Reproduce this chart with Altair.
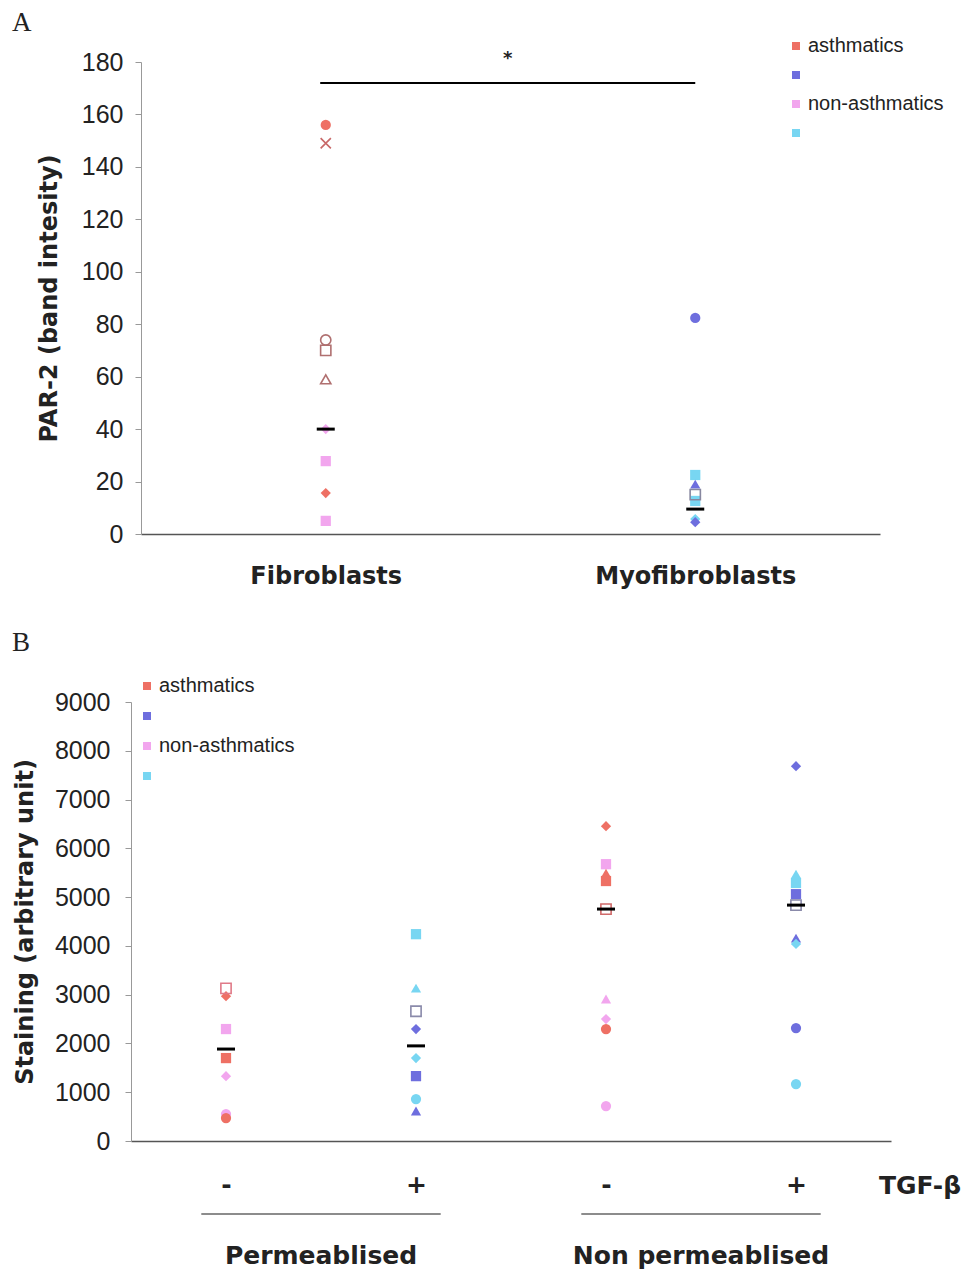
import altair as alt
import pandas as pd

# ---------------- shared series / colours ----------------
SERIES = ["asthmatics", "asthmatics_2", "non-asthmatics", "non-asthmatics_2"]
SERIES_COLORS = ["#EE7064", "#6E6EDE", "#F2A6EE", "#78D6F2"]
X_SHAPE = "M-1,-1L1,1M1,-1L-1,1"

# ---------------- panel A data ----------------
a_categories = ["Fibroblasts", "Myofibroblasts"]
# filled markers
a_f_cat = ["Fibroblasts"] * 5 + ["Myofibroblasts"] * 6
a_f_val = [156, 40, 27.8, 15.6, 5, 82.4, 22.5, 19, 12.6, 5.7, 4.5]
a_f_series = ["asthmatics", "non-asthmatics", "non-asthmatics", "asthmatics", "non-asthmatics",
              "asthmatics_2", "non-asthmatics_2", "asthmatics_2", "non-asthmatics_2",
              "non-asthmatics_2", "asthmatics_2"]
a_f_shape = ["circle", "diamond", "square", "diamond", "square",
             "circle", "square", "triangle-up", "square", "diamond", "diamond"]
# open markers
a_o_cat = ["Fibroblasts"] * 4 + ["Myofibroblasts"]
a_o_val = [149, 74, 70, 59, 15]
a_o_color = ["#C86868", "#B07070", "#B07070", "#B07070", "#8888A0"]
a_o_shape = [X_SHAPE, "circle", "square", "triangle-up", "square"]
# group means
a_m_cat = ["Fibroblasts", "Myofibroblasts"]
a_m_val = [40, 9.5]
# significance bar
a_sig_x = [0.97, 3.0]
a_sig_y = 172
a_sig_text = "*"

# ---------------- panel B data ----------------
b_tick_labels = ["-", "+", "-", "+"]
b_group_labels = ["Permeablised", "Non permeablised"]
b_f_grp = [0] * 6 + [1] * 7 + [2] * 8 + [3] * 8
b_f_val = [2970, 2295, 1700, 1330, 553, 470,
           4240, 3135, 2295, 1700, 1330, 860, 615,
           6455, 5675, 5490, 5330, 2910, 2500, 2295, 717,
           7684, 5470, 5290, 5060, 4160, 4040, 2315, 1168]
b_f_series = ["asthmatics", "non-asthmatics", "asthmatics", "non-asthmatics", "non-asthmatics", "asthmatics",
              "non-asthmatics_2", "non-asthmatics_2", "asthmatics_2", "non-asthmatics_2", "asthmatics_2",
              "non-asthmatics_2", "asthmatics_2",
              "asthmatics", "non-asthmatics", "asthmatics", "asthmatics", "non-asthmatics",
              "non-asthmatics", "asthmatics", "non-asthmatics",
              "asthmatics_2", "non-asthmatics_2", "non-asthmatics_2", "asthmatics_2", "asthmatics_2",
              "non-asthmatics_2", "asthmatics_2", "non-asthmatics_2"]
b_f_shape = ["diamond", "square", "square", "diamond", "circle", "circle",
             "square", "triangle-up", "diamond", "diamond", "square", "circle", "triangle-up",
             "diamond", "square", "triangle-up", "square", "triangle-up", "diamond", "circle", "circle",
             "diamond", "triangle-up", "square", "square", "triangle-up", "diamond", "circle", "circle"]
b_o_grp = [0, 1, 2, 3]
b_o_val = [3130, 2660, 4755, 4836]
b_o_color = ["#E07A88", "#8A8AAA", "#D06A6A", "#8A8AAA"]
b_m_grp = [0, 1, 2, 3]
b_m_val = [1885, 1950, 4755, 4836]

# ---------------- frames ----------------
def apos(c):
    return 2 * a_categories.index(c) + 1

def bpos(g):
    return 2 * g + 1

dfa_f = pd.DataFrame({"x": [apos(c) for c in a_f_cat], "v": a_f_val,
                      "series": a_f_series, "shape": a_f_shape})
dfa_o = pd.DataFrame({"x": [apos(c) for c in a_o_cat], "v": a_o_val,
                      "col": a_o_color, "shape": a_o_shape})
dfa_m = pd.DataFrame({"x": [apos(c) for c in a_m_cat], "v": a_m_val})
dfa_sig = pd.DataFrame({"x": [a_sig_x[0]], "x2": [a_sig_x[1]], "v": [a_sig_y],
                        "xm": [(a_sig_x[0] + a_sig_x[1]) / 2], "t": [a_sig_text]})

dfb_f = pd.DataFrame({"x": [bpos(g) for g in b_f_grp], "v": b_f_val,
                      "series": b_f_series, "shape": b_f_shape})
dfb_o = pd.DataFrame({"x": [bpos(g) for g in b_o_grp], "v": b_o_val, "col": b_o_color})
dfb_m = pd.DataFrame({"x": [bpos(g) for g in b_m_grp], "v": b_m_val})
b_centers = [4 * i + 2 for i in range(len(b_group_labels))]
dfb_g = pd.DataFrame({"x": b_centers, "x1": [c - 1.26 for c in b_centers],
                      "x2": [c + 1.26 for c in b_centers], "t": b_group_labels})

BOLD = "DejaVu Sans"
REG = "Liberation Sans"
MSIZE = 105

def legend(lx, ly, rowpad):
    return alt.Legend(orient="none", legendX=lx, legendY=ly, title=None,
                      labelExpr="indexof(datum.label, '_2') >= 0 ? ' ' : datum.label",
                      symbolType="square", symbolSize=64, symbolStrokeWidth=0,
                      labelFont=REG, labelFontSize=20, labelColor="#222",
                      rowPadding=rowpad, padding=0, labelOffset=2)

color_scale = alt.Scale(domain=SERIES, range=SERIES_COLORS)

# ---------------- panel A ----------------
WA, HA = 749, 472
xa = alt.X("x:Q", scale=alt.Scale(domain=[0, 4], range=[10, WA], nice=False),
           axis=alt.Axis(values=[1, 3], title=None, ticks=False, grid=False,
                         labelExpr="datum.value == 1 ? '%s' : '%s'" % tuple(a_categories),
                         labelFont=BOLD, labelFontWeight="bold", labelFontSize=24,
                         labelColor="#222", labelPadding=30, labelLimit=0, domainColor="#555",
                         domainWidth=1.5))
ya = alt.Y("v:Q", scale=alt.Scale(domain=[0, 180], nice=False),
           axis=alt.Axis(values=list(range(0, 181, 20)), title="PAR-2 (band intesity)",
                         titleFont=BOLD, titleFontSize=24, titleFontWeight="bold",
                         titleColor="#222", titlePadding=20, labelFont=REG, labelFontSize=25,
                         labelColor="#222", offset=-10, tickSize=6, labelPadding=12,
                         domainColor="#999", tickColor="#999", grid=False))

a_pts = alt.Chart(dfa_f).mark_point(filled=True, size=MSIZE, opacity=1).encode(
    x=xa, y=ya,
    color=alt.Color("series:N", scale=color_scale, legend=legend(655, -26, 9)),
    shape=alt.Shape("shape:N", scale=None))
a_open = alt.Chart(dfa_o).mark_point(filled=False, size=MSIZE, strokeWidth=1.6, opacity=1).encode(
    x="x:Q", y="v:Q", stroke=alt.Stroke("col:N", scale=None), shape=alt.Shape("shape:N", scale=None))
a_mean = alt.Chart(dfa_m).mark_tick(orient="horizontal", size=18, thickness=3, color="black",
                                    opacity=1).encode(x="x:Q", y="v:Q")
a_sig = alt.Chart(dfa_sig).mark_rule(color="black", strokeWidth=2).encode(x="x:Q", x2="x2", y="v:Q")
a_star = alt.Chart(dfa_sig).mark_text(font=BOLD, fontSize=18, fontWeight="bold", dy=-24,
                                      baseline="middle", color="#222").encode(
    x="xm:Q", y="v:Q", text="t:N")
a_letter = alt.Chart(pd.DataFrame({"t": ["A"]})).mark_text(
    font="Liberation Serif", fontSize=27, align="left", baseline="top", color="#222").encode(
    text="t:N", x=alt.value(-119), y=alt.value(-52))

chartA = alt.layer(a_pts, a_open, a_mean, a_sig, a_star, a_letter).properties(width=WA, height=HA)

# ---------------- panel B ----------------
WB, HB = 760, 439
xb = alt.X("x:Q", scale=alt.Scale(domain=[0, 8], nice=False),
           axis=alt.Axis(values=[bpos(i) for i in range(len(b_tick_labels))], title=None,
                         ticks=False, grid=False,
                         labelExpr="[%s][(datum.value - 1) / 2]" % ",".join("'%s'" % s for s in b_tick_labels),
                         labelFont=BOLD, labelFontWeight="bold", labelFontSize=25,
                         labelColor="#222", labelPadding=43, labelBaseline="middle",
                         domainColor="#555", domainWidth=1.5))
yb = alt.Y("v:Q", scale=alt.Scale(domain=[0, 9000], nice=False),
           axis=alt.Axis(values=list(range(0, 9001, 1000)), title="Staining (arbitrary unit)",
                         format="d",
                         titleFont=BOLD, titleFontSize=24, titleFontWeight="bold",
                         titleColor="#222", titlePadding=17, labelFont=REG, labelFontSize=25,
                         labelColor="#222", tickSize=6, labelPadding=15,
                         domainColor="#999", tickColor="#999", grid=False))

b_pts = alt.Chart(dfb_f).mark_point(filled=True, size=MSIZE, opacity=1).encode(
    x=xb, y=yb,
    color=alt.Color("series:N", scale=color_scale, legend=legend(6, -26, 10)),
    shape=alt.Shape("shape:N", scale=None))
b_open = alt.Chart(dfb_o).mark_point(filled=False, size=MSIZE, strokeWidth=1.6, shape="square",
                                     opacity=1).encode(
    x="x:Q", y="v:Q", stroke=alt.Stroke("col:N", scale=None))
b_mean = alt.Chart(dfb_m).mark_tick(orient="horizontal", size=18, thickness=3, color="black",
                                    opacity=1).encode(x="x:Q", y="v:Q")
b_under = alt.Chart(dfb_g).mark_rule(color="#666", strokeWidth=1.5).encode(
    x="x1:Q", x2="x2", y=alt.value(HB + 73))
b_glabel = alt.Chart(dfb_g).mark_text(font=BOLD, fontSize=25, fontWeight="bold", baseline="middle",
                                      color="#222").encode(
    x="x:Q", text="t:N", y=alt.value(HB + 115))
b_tgf = alt.Chart(pd.DataFrame({"t": ["TGF-β"]})).mark_text(
    font=BOLD, fontSize=25, fontWeight="bold", baseline="middle", color="#222").encode(
    text="t:N", x=alt.value(WB + 29), y=alt.value(HB + 45))
b_letter = alt.Chart(pd.DataFrame({"t": ["B"]})).mark_text(
    font="Liberation Serif", fontSize=27, align="left", baseline="top", color="#222").encode(
    text="t:N", x=alt.value(-119), y=alt.value(-72))

chartB = alt.layer(b_pts, b_open, b_mean, b_under, b_glabel, b_tgf, b_letter).properties(
    width=WB, height=HB)

chart = alt.vconcat(chartA, chartB, spacing=168, bounds="flush").resolve_scale(
    color="independent", x="independent", y="independent", shape="independent",
    stroke="independent").resolve_legend(color="independent").properties(
    padding={"left": 12, "top": 9, "right": 5, "bottom": 5}).configure_view(stroke=None)

chart.save("out.html", embed_options={"renderer": "svg", "actions": False})
